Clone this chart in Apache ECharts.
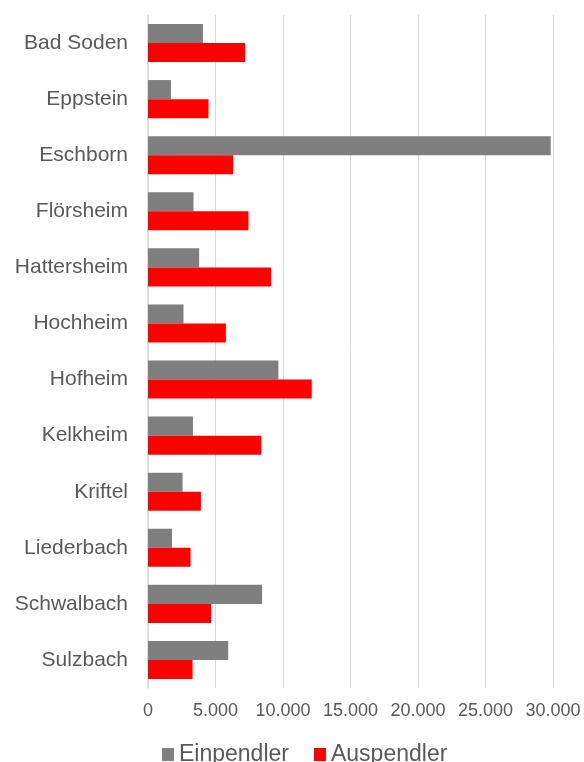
<!DOCTYPE html>
<html>
<head>
<meta charset="utf-8">
<script src="https://cdn.jsdelivr.net/npm/echarts@6/dist/echarts.min.js"></script>
<style>
  html, body { margin: 0; padding: 0; background: #fff; }
  #chart { width: 584px; height: 762px; }
</style>
</head>
<body>
<div id="chart"></div>
<script>
var categories = ['Bad Soden', 'Eppstein', 'Eschborn', 'Flörsheim', 'Hattersheim', 'Hochheim',
  'Hofheim', 'Kelkheim', 'Kriftel', 'Liederbach', 'Schwalbach', 'Sulzbach'];
var einpendler = [4070, 1700, 29830, 3370, 3790, 2630, 9660, 3330, 2560, 1780, 8450, 5940];
var auspendler = [7200, 4480, 6310, 7440, 9120, 5770, 12130, 8400, 3920, 3150, 4680, 3300];
var xTicks = { min: 0, max: 30000, step: 5000 };

var font = "'Liberation Sans', Arial, sans-serif";

// Tausenderpunkt wie im Original (5.000)
function fmt(v) {
  return String(v).replace(/\B(?=(\d{3})+(?!\d))/g, '.');
}

var chart = echarts.init(document.getElementById('chart'));
chart.setOption({
  animation: false,
  textStyle: { fontFamily: font },
  grid: {
    left: 148,
    right: 31,
    top: 15,
    bottom: 74
  },
  legend: {
    left: 157,
    top: 738,
    itemWidth: 12,
    itemHeight: 13,
    itemGap: 25,
    icon: 'rect',
    textStyle: { fontSize: 23, color: '#595959', fontFamily: font },
    data: ['Einpendler', 'Auspendler']
  },
  xAxis: {
    type: 'value',
    min: xTicks.min,
    max: xTicks.max,
    interval: xTicks.step,
    axisLine: { show: false },
    axisTick: { show: false },
    axisLabel: {
      fontSize: 18,
      color: '#595959',
      margin: 14,
      fontFamily: font,
      formatter: fmt
    },
    splitLine: { lineStyle: { color: '#d9d9d9', width: 1 } }
  },
  yAxis: {
    type: 'category',
    inverse: true,
    data: categories,
    axisLine: { show: true, lineStyle: { color: '#d9d9d9', width: 1.5 } },
    axisTick: { show: false },
    axisLabel: {
      fontSize: 21,
      color: '#595959',
      margin: 20,
      fontFamily: font
    }
  },
  series: [
    {
      name: 'Einpendler',
      type: 'bar',
      barGap: '0%',
      barCategoryGap: '32%',
      itemStyle: { color: '#7f7f7f' },
      data: einpendler
    },
    {
      name: 'Auspendler',
      type: 'bar',
      barGap: '0%',
      barCategoryGap: '32%',
      itemStyle: { color: '#ff0000' },
      data: auspendler
    }
  ]
});
</script>
</body>
</html>
